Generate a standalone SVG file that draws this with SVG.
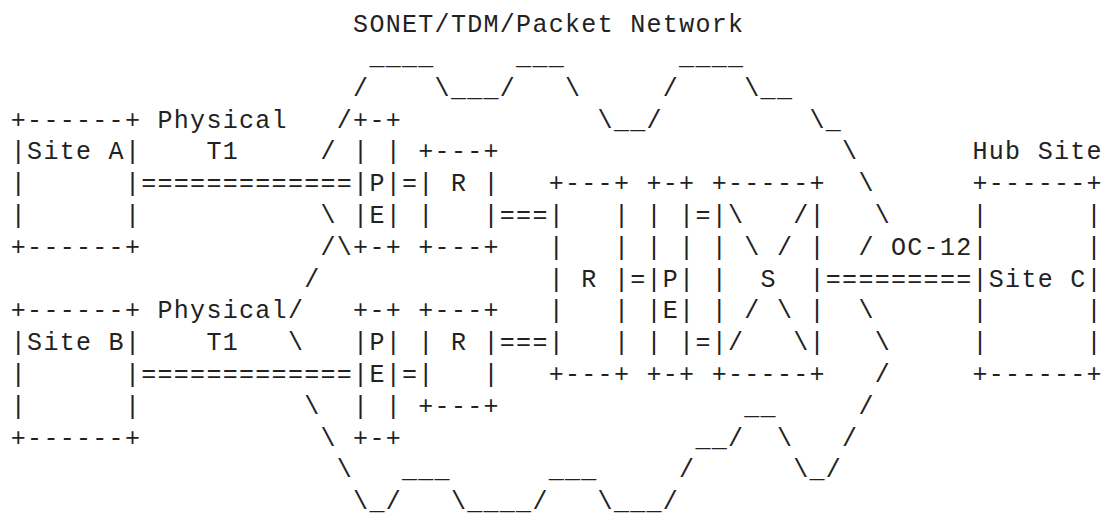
<svg xmlns="http://www.w3.org/2000/svg" width="1112" height="524" viewBox="0 0 1112 524" xml:space="preserve">
<style>
text { font-family: "Liberation Mono", "DejaVu Sans Mono", monospace; font-size: 25px; letter-spacing: 1.3px; fill: #222; white-space: pre; }
</style>
<rect width="1112" height="524" fill="#ffffff"/>
<g id="network-title">
<text x="353.1" y="32.2">SONET/TDM/Packet Network</text>
</g>
<g id="site-a">
<text x="10.8" y="127.6">+------+</text>
<text x="10.8" y="159.4">|Site A|</text>
<text x="10.8" y="191.2">|      |</text>
<text x="10.8" y="223.0">|      |</text>
<text x="10.8" y="254.8">+------+</text>
</g>
<g id="site-b">
<text x="10.8" y="318.4">+------+</text>
<text x="10.8" y="350.2">|Site B|</text>
<text x="10.8" y="382.0">|      |</text>
<text x="10.8" y="413.8">|      |</text>
<text x="10.8" y="445.6">+------+</text>
</g>
<g id="pe-a">
<text x="353.1" y="127.6">+-+</text>
<text x="353.1" y="159.4">| |</text>
<text x="353.1" y="191.2">|P|</text>
<text x="353.1" y="223.0">|E|</text>
<text x="353.1" y="254.8">+-+</text>
</g>
<g id="r-a">
<text x="418.3" y="159.4">+---+</text>
<text x="418.3" y="191.2">| R |</text>
<text x="418.3" y="223.0">|   |</text>
<text x="418.3" y="254.8">+---+</text>
</g>
<g id="pe-b">
<text x="353.1" y="318.4">+-+</text>
<text x="353.1" y="350.2">|P|</text>
<text x="353.1" y="382.0">|E|</text>
<text x="353.1" y="413.8">| |</text>
<text x="353.1" y="445.6">+-+</text>
</g>
<g id="r-b">
<text x="418.3" y="318.4">+---+</text>
<text x="418.3" y="350.2">| R |</text>
<text x="418.3" y="382.0">|   |</text>
<text x="418.3" y="413.8">+---+</text>
</g>
<g id="r-hub">
<text x="548.7" y="191.2">+---+</text>
<text x="548.7" y="223.0">|   |</text>
<text x="548.7" y="254.8">|   |</text>
<text x="548.7" y="286.6">| R |</text>
<text x="548.7" y="318.4">|   |</text>
<text x="548.7" y="350.2">|   |</text>
<text x="548.7" y="382.0">+---+</text>
</g>
<g id="pe-hub">
<text x="646.5" y="191.2">+-+</text>
<text x="646.5" y="223.0">| |</text>
<text x="646.5" y="254.8">| |</text>
<text x="646.5" y="286.6">|P|</text>
<text x="646.5" y="318.4">|E|</text>
<text x="646.5" y="350.2">| |</text>
<text x="646.5" y="382.0">+-+</text>
</g>
<g id="switch-s">
<text x="711.7" y="191.2">+-----+</text>
<text x="711.7" y="223.0">|\   /|</text>
<text x="711.7" y="254.8">| \ / |</text>
<text x="711.7" y="286.6">|  S  |</text>
<text x="711.7" y="318.4">| / \ |</text>
<text x="711.7" y="350.2">|/   \|</text>
<text x="711.7" y="382.0">+-----+</text>
</g>
<g id="site-c">
<text x="972.5" y="159.4">Hub Site</text>
<text x="972.5" y="191.2">+------+</text>
<text x="972.5" y="223.0">|      |</text>
<text x="972.5" y="254.8">|      |</text>
<text x="972.5" y="286.6">|Site C|</text>
<text x="972.5" y="318.4">|      |</text>
<text x="972.5" y="350.2">|      |</text>
<text x="972.5" y="382.0">+------+</text>
</g>
<g id="connectors">
<text x="141.2" y="191.2">=============</text>
<text x="402.0" y="191.2">=</text>
<text x="499.8" y="223.0">===</text>
<text x="630.2" y="286.6">=</text>
<text x="695.4" y="223.0">=</text>
<text x="695.4" y="350.2">=</text>
<text x="825.8" y="286.6">=========</text>
<text x="499.8" y="350.2">===</text>
<text x="402.0" y="382.0">=</text>
<text x="141.2" y="382.0">=============</text>
<text x="157.5" y="127.6">Physical</text>
<text x="206.4" y="159.4">T1</text>
<text x="157.5" y="318.4">Physical</text>
<text x="206.4" y="350.2">T1</text>
<text x="891.0" y="254.8">OC-12</text>
</g>
<g id="network-cloud">
<text x="369.4" y="64.0">____</text>
<text x="516.1" y="64.0">___</text>
<text x="679.1" y="64.0">____</text>
<text x="353.1" y="95.8">/</text>
<text x="434.6" y="95.8">\___/</text>
<text x="565.0" y="95.8">\</text>
<text x="662.8" y="95.8">/</text>
<text x="744.3" y="95.8">\__</text>
<text x="336.8" y="127.6">/</text>
<text x="597.6" y="127.6">\__/</text>
<text x="809.5" y="127.6">\_</text>
<text x="320.5" y="159.4">/</text>
<text x="842.1" y="159.4">\</text>
<text x="858.4" y="191.2">\</text>
<text x="320.5" y="223.0">\</text>
<text x="874.7" y="223.0">\</text>
<text x="320.5" y="254.8">/\</text>
<text x="858.4" y="254.8">/</text>
<text x="304.2" y="286.6">/</text>
<text x="287.9" y="318.4">/</text>
<text x="858.4" y="318.4">\</text>
<text x="287.9" y="350.2">\</text>
<text x="874.7" y="350.2">\</text>
<text x="874.7" y="382.0">/</text>
<text x="304.2" y="413.8">\</text>
<text x="744.3" y="413.8">__</text>
<text x="858.4" y="413.8">/</text>
<text x="320.5" y="445.6">\</text>
<text x="695.4" y="445.6">__/</text>
<text x="776.9" y="445.6">\</text>
<text x="842.1" y="445.6">/</text>
<text x="336.8" y="477.4">\</text>
<text x="402.0" y="477.4">___</text>
<text x="548.7" y="477.4">___</text>
<text x="679.1" y="477.4">/</text>
<text x="793.2" y="477.4">\_/</text>
<text x="353.1" y="509.2">\_/</text>
<text x="450.9" y="509.2">\____/</text>
<text x="597.6" y="509.2">\___/</text>
</g>
</svg>
